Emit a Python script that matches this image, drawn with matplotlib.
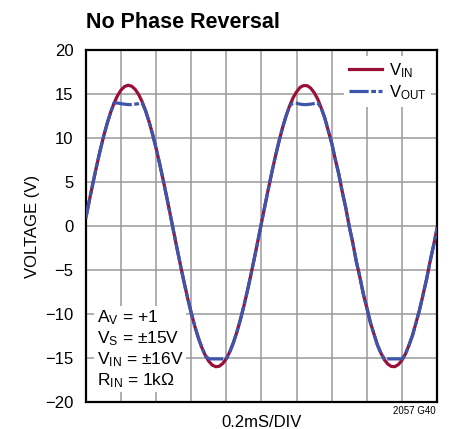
import numpy as np
import matplotlib
matplotlib.use("Agg")
import matplotlib.pyplot as plt

plt.rcParams['font.family'] = ['Liberation Sans Narrow', 'Liberation Sans', 'DejaVu Sans']
plt.rcParams['mathtext.default'] = 'regular'

# time in scope divisions (0.2ms/DIV), sampled every 0.1 div
t_div = np.arange(101) * 0.1

v_in = [1.00, 2.98, 4.92, 6.77, 8.53, 10.15, 11.61, 12.89, 13.97, 14.83,
        15.46, 15.85, 16.00, 15.89, 15.54, 14.95, 14.12, 13.07, 11.82, 10.39,
        8.79, 7.06, 5.21, 3.29, 1.31, -0.69, -2.67, -4.62, -6.49, -8.26,
        -9.90, -11.39, -12.70, -13.81, -14.71, -15.38, -15.81, -15.99, -15.93, -15.61,
        -15.06, -14.26, -13.25, -12.03, -10.62, -9.05, -7.34, -5.51, -3.59, -1.62,
        0.37, 2.36, 4.31, 6.20, 7.99, 9.65, 11.17, 12.51, 13.64, 14.58,
        15.25, 15.76, 15.96, 15.95, 15.68, 15.16, 14.44, 13.43, 12.31, 10.86,
        9.43, 7.61, 5.94, 3.90, 2.09, -0.06, -1.89, -4.01, -5.76, -7.71,
        -9.28, -10.94, -12.22, -13.49, -14.42, -15.20, -15.69, -15.96, -15.98, -15.74,
        -15.26, -14.54, -13.56, -12.44, -11.03, -9.56, -7.85, -6.09, -4.08, -2.25,
        -0.26]

v_out = [1.00, 2.98, 4.92, 6.77, 8.53, 10.15, 11.61, 12.89, 13.97, 13.98,
         13.90, 13.85, 13.80, 13.80, 13.85, 13.90, 14.00, 13.07, 11.82, 10.39,
         8.79, 7.06, 5.21, 3.29, 1.31, -0.69, -2.67, -4.62, -6.49, -8.26,
         -9.90, -11.39, -12.70, -13.81, -14.71, -15.10, -15.10, -15.10, -15.10, -15.10,
         -15.06, -14.26, -13.25, -12.03, -10.62, -9.05, -7.34, -5.51, -3.59, -1.62,
         0.37, 2.36, 4.31, 6.20, 7.99, 9.65, 11.17, 12.51, 13.64, 14.00,
         13.95, 13.85, 13.80, 13.80, 13.85, 13.92, 14.00, 13.43, 12.31, 10.86,
         9.43, 7.61, 5.94, 3.90, 2.09, -0.06, -1.89, -4.01, -5.76, -7.71,
         -9.28, -10.94, -12.22, -13.49, -14.42, -15.10, -15.10, -15.10, -15.10, -15.10,
         -15.10, -14.54, -13.56, -12.44, -11.03, -9.56, -7.85, -6.09, -4.08, -2.25,
         -0.26]

y_ticks = [-20, -15, -10, -5, 0, 5, 10, 15, 20]

fig = plt.figure(figsize=(4.49, 4.29), dpi=100)
ax = fig.add_axes([0.1915, 0.0629, 0.7818, 0.8205])

ax.plot(t_div, v_in, color='#9a0f35', lw=2.3, label='$V_{IN}$', zorder=3)
ax.plot(t_div, v_out, color='#3d56ab', lw=2.3, linestyle=(0, (6, 0.8, 1.5, 0.8)),
        label='$V_{OUT}$', zorder=4)

ax.set_xlim(0, 10)
ax.set_ylim(-20, 20)
ax.set_xticks(np.arange(0, 11))
ax.set_yticks(y_ticks)
ax.set_xticklabels([])
ax.set_yticklabels([str(v).replace('-', '\u2212') for v in y_ticks], fontsize=12)
ax.tick_params(length=0, pad=9)
ax.grid(True, color='#9a9a9a', lw=1.1)
ax.set_axisbelow(True)
for s in ax.spines.values():
    s.set_linewidth(1.6)

ax.set_ylabel('VOLTAGE (V)', fontsize=12, labelpad=4)
ax.set_xlabel('0.2mS/DIV', fontsize=12, labelpad=0)

fig.text(0.1915, 0.935, 'No Phase Reversal', fontsize=15.5, fontweight='bold',
         ha='left', va='baseline')
fig.text(0.971, 0.035, '2057 G40', fontsize=7, ha='right', va='baseline')

leg = ax.legend(loc='upper right', fontsize=12, frameon=True, fancybox=False,
                edgecolor='none', framealpha=1, handlelength=2.0, handletextpad=0.4,
                borderpad=0.3, labelspacing=0.2, borderaxespad=0.35)

ax.text(0.03, 0.035,
        '$A_V$ = +1\n$V_S$ = \u00b115V\n$V_{IN}$ = \u00b116V\n$R_{IN}$ = 1k\u03a9',
        transform=ax.transAxes, fontsize=12.5, ha='left', va='bottom',
        linespacing=1.15, zorder=5,
        bbox=dict(facecolor='white', edgecolor='none', pad=2))

fig.savefig('out.png', dpi=100)
